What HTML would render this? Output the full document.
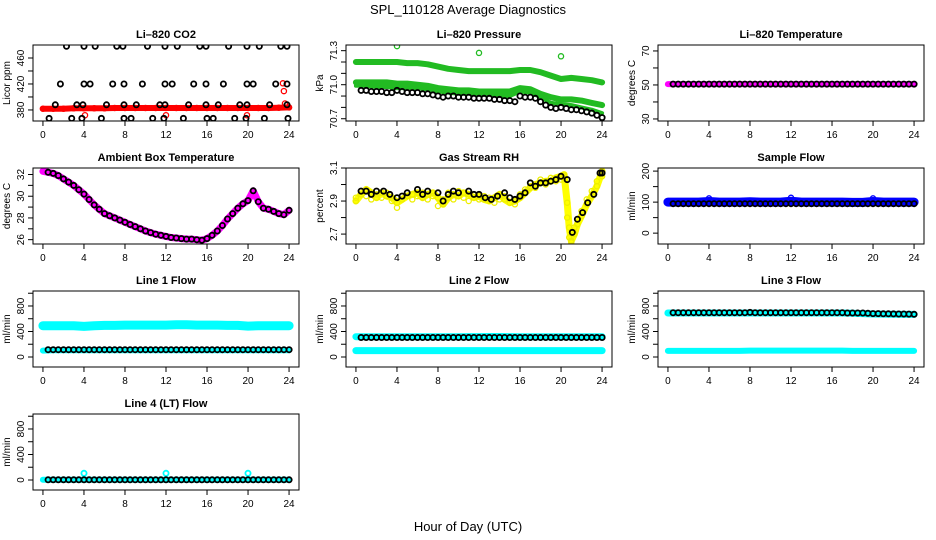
<!DOCTYPE html>
<html><head><meta charset="utf-8"><title>SPL_110128 Average Diagnostics</title>
<style>
html,body{margin:0;padding:0;background:#fff;}
svg{display:block;font-family:"Liberation Sans",Arial,sans-serif;}
</style></head>
<body>
<svg id="chart" width="936" height="540" viewBox="0 0 936 540">
<text x="468" y="14" text-anchor="middle" font-size="13">SPL_110128  Average Diagnostics</text>
<text x="468" y="531" text-anchor="middle" font-size="13">Hour of Day (UTC)</text>
</svg>
<script>
// ---------- data ----------
const xTicks = [0,4,8,12,16,20,24];
const hourly = [0,1,2,3,4,5,6,7,8,9,10,11,12,13,14,15,16,17,18,19,20,21,22,23,24];
const halfHours = [0.5,1,1.5,2,2.5,3,3.5,4,4.5,5,5.5,6,6.5,7,7.5,8,8.5,9,9.5,10,10.5,11,11.5,12,12.5,13,13.5,14,14.5,15,15.5,16,16.5,17,17.5,18,18.5,19,19.5,20,20.5,21,21.5,22,22.5,23,23.5,24];
const halfGrid = [0,0.5,1,1.5,2,2.5,3,3.5,4,4.5,5,5.5,6,6.5,7,7.5,8,8.5,9,9.5,10,10.5,11,11.5,12,12.5,13,13.5,14,14.5,15,15.5,16,16.5,17,17.5,18,18.5,19,19.5,20,20.5,21,21.5,22,22.5,23,23.5,24];

// CO2
const co2BlackX = [2.3,4.0,5.1,7.2,7.8,10.2,11.9,13.1,15.3,15.9,18.1,19.9,21.1,23.2,23.8, 1.7,4.0,4.6,6.8,7.9,9.7,11.9,12.6,14.7,15.9,17.6,19.9,20.5,22.7,23.8, 1.2,3.3,3.9,6.2,7.9,9.1,11.4,11.9,14.2,15.9,17.1,19.2,19.9,22.1,23.8, 0.6,2.8,3.8,5.7,7.9,8.6,10.7,11.8,13.7,16.0,16.6,18.7,19.8,21.6,23.9];
const co2BlackY = [478,478,478,478,478,478,478,478,478,478,478,478,478,478,478, 420,420,420,420,420,420,420,420,420,420,420,420,420,420,420, 388,388,388,388,388,388,388,388,388,388,388,388,388,388,388, 367,367,367,367,367,367,367,367,367,367,367,367,367,367,367];
const co2Red = [382,382,382,382.5,382.5,382.5,382.5,383,383,383,383,383,383,383,383,383,383,383,383,383,383,383,383,383.5,384];
const co2RedOutX = [4.1,12.0,19.9,23.4,23.5,23.6];
const co2RedOutY = [372,372,372,421,409,390];

// Pressure
const presTop = [71.20,71.20,71.20,71.20,71.20,71.19,71.19,71.18,71.16,71.14,71.13,71.12,71.12,71.12,71.12,71.12,71.13,71.13,71.11,71.08,71.05,71.06,71.05,71.04,71.02];
const presMid = [71.02,71.02,71.02,71.02,71.01,71.01,71.00,70.99,70.97,70.96,70.95,70.95,70.94,70.94,70.94,70.94,70.97,70.96,70.92,70.89,70.87,70.87,70.86,70.84,70.82];
const presLow = [70.99,70.99,70.98,70.98,70.97,70.97,70.97,70.96,70.94,70.93,70.92,70.92,70.91,70.91,70.90,70.90,70.94,70.93,70.89,70.84,70.83,70.82,70.80,70.78,70.75];
const presBlack = [70.95,70.95,70.94,70.94,70.94,70.93,70.93,70.95,70.94,70.93,70.93,70.93,70.92,70.92,70.91,70.90,70.89,70.90,70.90,70.89,70.89,70.89,70.88,70.88,70.88,70.88,70.87,70.87,70.86,70.86,70.85,70.90,70.89,70.89,70.88,70.85,70.82,70.80,70.79,70.80,70.79,70.78,70.78,70.77,70.76,70.75,70.73,70.71];
const presOutX = [4,12,20];
const presOutY = [71.34,71.28,71.25];

// Li-820 temperature
const tempMag = [50.5,50.5,50.5,50.5,50.5,50.5,50.5,50.5,50.5,50.5,50.5,50.5,50.5,50.5,50.5,50.5,50.5,50.5,50.5,50.5,50.5,50.5,50.5,50.5,50.5];
const tempBlack = halfHours.map(()=>50.5);

// Ambient box temperature
const ambMag = [32.3,32.2,32.1,31.9,31.6,31.3,31.0,30.6,30.2,29.7,29.2,28.8,28.4,28.2,28.0,27.8,27.6,27.4,27.2,27.0,26.8,26.65,26.5,26.4,26.3,26.2,26.15,26.1,26.05,26.05,26.0,25.95,26.1,26.4,26.8,27.3,27.9,28.4,28.9,29.3,29.6,30.5,29.5,28.9,28.8,28.6,28.4,28.3,28.7];
const ambBlack = [32.2,32.1,31.9,31.6,31.3,31.0,30.6,30.2,29.7,29.2,28.8,28.4,28.2,28.0,27.8,27.6,27.4,27.2,27.0,26.8,26.65,26.5,26.4,26.3,26.2,26.15,26.1,26.05,26.05,26.0,25.95,26.1,26.4,26.8,27.3,27.9,28.4,28.9,29.3,29.6,30.5,29.5,28.9,28.8,28.6,28.4,28.3,28.7];

// Gas stream RH
const rhYellowX = [0,0.5,1,1.5,2,2.5,3,3.5,4,4.5,5,5.5,6,6.5,7,7.5,8,8.5,9,9.5,10,10.5,11,11.5,12,12.5,13,13.5,14,14.5,15,15.5,16,16.5,17,17.5,18,18.5,19,19.5,20,20.3,20.6,20.8,21,21.3,21.6,22,22.5,23,23.5,24];
const rhYellowA = [2.90,2.94,2.97,2.95,2.92,2.95,2.93,2.92,2.89,2.91,2.93,2.94,2.95,2.92,2.94,2.95,2.92,2.88,2.92,2.94,2.93,2.95,2.94,2.92,2.93,2.91,2.90,2.92,2.94,2.91,2.89,2.90,2.92,2.95,2.98,3.00,3.01,3.02,3.02,3.04,3.05,3.06,2.89,2.74,2.66,2.70,2.76,2.81,2.88,2.93,2.99,3.08];
const rhYellowB = [2.92,2.96,2.93,2.91,2.94,2.92,2.95,2.90,2.86,2.93,2.95,2.91,2.93,2.95,2.91,2.93,2.87,2.91,2.95,2.91,2.96,2.92,2.90,2.94,2.91,2.93,2.92,2.89,2.91,2.93,2.92,2.88,2.94,2.97,2.99,2.98,3.03,3.00,3.04,3.02,3.03,3.05,2.80,2.68,2.65,2.74,2.79,2.84,2.91,2.96,3.02,3.05];
const rhBlackX = [0.5,1,1.5,2,2.7,3.3,4,4.5,5,6,6.5,7,8,8.5,9,9.5,10,11,11.5,12,12.6,13.2,13.8,14.5,15,15.5,16,16.5,17,17.5,18,18.5,19,19.5,20,20.6,21.1,21.6,22.1,22.6,23.2,23.8,24];
const rhBlackY = [2.96,2.96,2.94,2.96,2.96,2.94,2.92,2.93,2.95,2.97,2.94,2.96,2.95,2.90,2.94,2.96,2.95,2.96,2.94,2.94,2.92,2.91,2.93,2.95,2.92,2.91,2.93,2.95,3.01,2.99,3.01,3.01,3.02,3.03,3.05,3.03,2.71,2.79,2.83,2.89,2.94,3.07,3.07];

// Sample flow
const sampleBlue = [100,100,100,100,102,100,100,100,101,100,100,100,103,100,100,100,100,100,99,99,102,100,100,100,100];
const sampleBlack = halfHours.map(()=>95);
const sampleOutX = [4,12,20];
const sampleOutY = [112,114,112];

// Line flows
const line1Upper = [490,490,490,490,480,490,495,495,500,500,500,500,500,505,505,500,500,500,495,495,485,490,490,490,490];
const line1Lower = [100,105,105,105,105,105,105,105,105,105,105,105,105,105,105,105,105,105,105,105,105,105,105,105,105];
const line1Black = halfHours.map(()=>115);
const line2Upper = [318,318,318,318,318,318,318,318,318,318,318,320,320,322,322,320,318,318,318,318,318,318,318,318,318];
const line2Lower = [100,100,100,100,100,100,100,100,100,100,100,100,100,100,100,100,100,100,100,100,100,100,100,100,100];
const line2Black = halfHours.map(()=>305);
const line3Upper = [690,690,690,690,690,690,690,690,690,690,690,690,690,690,690,690,690,690,685,680,675,672,670,668,668];
const line3Lower = [95,95,95,95,95,95,95,95,100,100,100,100,100,100,100,100,100,100,95,95,95,95,95,95,95];
const line3Black = [695,695,695,695,695,695,695,695,695,695,695,695,695,695,695,700,695,695,695,695,695,695,695,695,695,695,695,695,695,695,695,695,695,695,690,690,690,690,685,680,680,678,678,676,675,675,672,670];
const line4Cyan = [5,5,5,5,5,5,5,5,5,5,5,5,5,5,5,5,5,5,5,5,5,5,5,5,5];
const line4Black = halfHours.map(()=>3);
const line4OutX = [4,12,20];
const line4OutY = [105,105,105];

// ---------- drawing ----------
const NS = 'http://www.w3.org/2000/svg';
const svg = document.getElementById('chart');
const colLeft = [33, 346, 658];
const rowTop = [45, 168, 291, 414];
const BW = 266, BH = 76;
const XMIN = -0.97, XMAX = 24.97;

function mk(tag, parent, attrs){
  const e = document.createElementNS(NS, tag);
  for (const k in attrs) e.setAttribute(k, attrs[k]);
  parent.appendChild(e);
  return e;
}

function panel(id, col, row, title, ylab, ymin, ymax, yticks, ylabels){
  const g = mk('g', svg, {});
  
  
  const L = colLeft[col], T = rowTop[row];
  const sx = v => L + (v - XMIN) / (XMAX - XMIN) * BW;
  const sy = v => T + BH - (v - ymin) / (ymax - ymin) * BH;
  const t = mk('text', g, {x: L + BW/2, y: T - 7, 'text-anchor':'middle', 'font-size':11, 'font-weight':'bold'});
  t.textContent = title;
  
  
  const ax = mk('g', g, {stroke:'#000', 'stroke-width':1});
  
  
  xTicks.forEach(v => {
    mk('line', ax, {x1: sx(v), x2: sx(v), y1: T+BH, y2: T+BH+5});
    const tl = mk('text', ax, {x: sx(v), y: T+BH+17, 'text-anchor':'middle', 'font-size':10, stroke:'none'});
    tl.textContent = v;
    
    
  });
  const ay = mk('g', g, {stroke:'#000', 'stroke-width':1});
  
  
  yticks.forEach((v, i) => {
    mk('line', ay, {x1: L-5, x2: L, y1: sy(v), y2: sy(v)});
    if (ylabels[i] !== '') {
      const tl = mk('text', ay, {x: L-9, y: sy(v), 'text-anchor':'middle', 'font-size':10, stroke:'none', transform:`rotate(-90 ${L-9} ${sy(v)})`});
      tl.textContent = ylabels[i];
      
      
    }
  });
  const yt = mk('text', g, {x: L-23, y: T+BH/2, 'text-anchor':'middle', 'font-size':10, transform:`rotate(-90 ${L-23} ${T+BH/2})`});
  yt.textContent = ylab;
  
  
  const clipId = 'clip-' + id;
  const cp = mk('clipPath', g, {id: clipId});
  mk('rect', cp, {x: L, y: T, width: BW, height: BH});
  const plot = mk('g', g, {'clip-path': `url(#${clipId})`});
  
  
  const box = mk('rect', g, {x: L, y: T, width: BW, height: BH, fill:'none', stroke:'#000', 'stroke-width':1});
  
  
  return {plot, sx, sy, id};
}

function band(p, xs, ys, color, width, name){
  const pts = xs.map((x, i) => `${p.sx(x).toFixed(1)},${p.sy(ys[i]).toFixed(1)}`).join(' ');
  const pl = mk('polyline', p.plot, {points: pts, fill:'none', stroke: color, 'stroke-width': width, 'stroke-linejoin':'round', 'stroke-linecap':'round'});
  
  
}

function points(p, xs, ys, color, name, r, sw){
  const g = mk('g', p.plot, {fill:'none', stroke: color, 'stroke-width': sw || 1.3});
  
  
  xs.forEach((x, i) => {
    const c = mk('circle', g, {cx: p.sx(x).toFixed(1), cy: p.sy(ys[i]).toFixed(1), r: r || 2.6});
    
    
  });
}

const flowTicks = [0,200,400,600,800,1000];
const flowLabels = ['0','','400','','800',''];
const BK = 1.8;

// CO2
let p = panel('co2', 0, 0, 'Li\u2013820 CO2', 'Licor ppm', 363, 480, [380,400,420,440,460], ['380','','420','','460']);
band(p, hourly, co2Red, '#ff0000', 6, 'co2-red-band');
points(p, hourly, co2Red, '#ff0000', 'co2-red');
points(p, co2RedOutX, co2RedOutY, '#ff0000', 'co2-red-outlier');
points(p, co2BlackX, co2BlackY, '#000', 'co2-black', 2.6, BK);

// Pressure
p = panel('pressure', 1, 0, 'Li\u2013820 Pressure', 'kPa', 70.68, 71.35, [70.7,70.8,70.9,71.0,71.1,71.2,71.3], ['70.7','','','71.0','','','71.3']);
band(p, hourly, presTop, '#22bb22', 6, 'pressure-green-top');
band(p, hourly, presMid, '#22bb22', 6, 'pressure-green-mid');
band(p, hourly, presLow, '#22bb22', 4, 'pressure-green-low');
points(p, presOutX, presOutY, '#22bb22', 'pressure-green-outlier');
points(p, halfHours, presBlack, '#000', 'pressure-black', 2.6, BK);

// Li-820 temperature
p = panel('li820-temp', 2, 0, 'Li\u2013820 Temperature', 'degrees C', 28.8, 73.5, [30,40,50,60,70], ['30','','50','','70']);
band(p, hourly, tempMag, '#ff00ff', 6, 'li820-temp-magenta');
points(p, halfHours, tempBlack, '#000', 'li820-temp-black', 2.6, BK);

// Ambient
p = panel('ambient-temp', 0, 1, 'Ambient Box Temperature', 'degrees C', 25.6, 32.6, [26,27,28,29,30,31,32], ['26','','28','','30','','32']);
band(p, halfGrid, ambMag, '#ff00ff', 7, 'ambient-magenta');
points(p, halfHours, ambBlack, '#000', 'ambient-black', 2.6, BK);

// RH
p = panel('gas-rh', 1, 1, 'Gas Stream RH', 'percent', 2.64, 3.1, [2.7,2.8,2.9,3.0,3.1], ['2.7','','2.9','','3.1']);
band(p, rhYellowX, rhYellowA, '#ffff00', 7, 'rh-yellow-band');
points(p, rhYellowX, rhYellowA, '#eeee00', 'rh-yellow-a');
points(p, rhYellowX, rhYellowB, '#eeee00', 'rh-yellow-b');
points(p, rhBlackX, rhBlackY, '#000', 'rh-black', 2.6, BK);

// Sample flow
p = panel('sample-flow', 2, 1, 'Sample Flow', 'ml/min', -35, 210, [0,50,100,150,200], ['0','','100','','200']);
band(p, hourly, sampleBlue, '#0000ff', 9, 'sample-blue-band');
points(p, sampleOutX, sampleOutY, '#0000ff', 'sample-blue-outlier');
points(p, halfHours, sampleBlack, '#000', 'sample-black', 2.6, BK);

// Line 1
p = panel('line1-flow', 0, 2, 'Line 1 Flow', 'ml/min', -157, 1035, flowTicks, flowLabels);
band(p, hourly, line1Upper, '#00ffff', 9, 'line1-cyan-upper');
band(p, hourly, line1Lower, '#00ffff', 6, 'line1-cyan-lower');
points(p, halfHours, line1Black, '#000', 'line1-black', 2.6, BK);

// Line 2
p = panel('line2-flow', 1, 2, 'Line 2 Flow', 'ml/min', -157, 1035, flowTicks, flowLabels);
band(p, hourly, line2Upper, '#00ffff', 7, 'line2-cyan-upper');
band(p, hourly, line2Lower, '#00ffff', 7, 'line2-cyan-lower');
points(p, halfHours, line2Black, '#000', 'line2-black', 2.6, BK);

// Line 3
p = panel('line3-flow', 2, 2, 'Line 3 Flow', 'ml/min', -157, 1035, flowTicks, flowLabels);
band(p, hourly, line3Upper, '#00ffff', 7, 'line3-cyan-upper');
band(p, hourly, line3Lower, '#00ffff', 6, 'line3-cyan-lower');
points(p, halfHours, line3Black, '#000', 'line3-black', 2.6, BK);

// Line 4
p = panel('line4-flow', 0, 3, 'Line 4 (LT) Flow', 'ml/min', -157, 1035, flowTicks, flowLabels);
band(p, hourly, line4Cyan, '#00ffff', 6, 'line4-cyan');
points(p, line4OutX, line4OutY, '#00ffff', 'line4-cyan-outlier', 2.6, 1.8);
points(p, halfHours, line4Black, '#000', 'line4-black', 2.6, BK);
</script>
</body></html>
